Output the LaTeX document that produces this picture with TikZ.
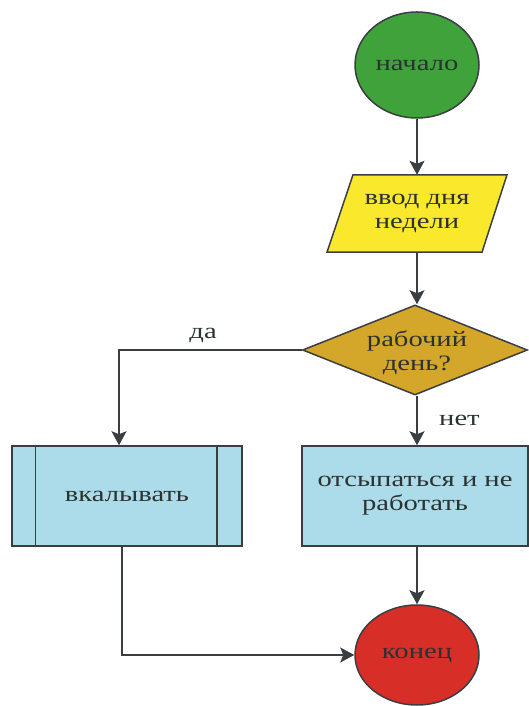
\documentclass[tikz,border=0pt]{standalone}
\usepackage{fontspec}
\setmainfont{Liberation Serif}
\newfontfamily\labelfont{Liberation Serif}[FakeStretch=1.3]
\usetikzlibrary{arrows.meta,shapes.geometric,backgrounds}
\definecolor{startgreen}{RGB}{64,162,58}
\definecolor{inyellow}{RGB}{250,232,44}
\definecolor{askgold}{RGB}{212,166,42}
\definecolor{boxblue}{RGB}{172,220,234}
\definecolor{stopred}{RGB}{216,46,40}
\definecolor{edge}{RGB}{58,62,66}
\definecolor{ink}{RGB}{42,50,50}
\begin{document}
\begin{tikzpicture}[x=1pt,y=1pt,
  every node/.style={font=\labelfont\fontsize{22}{24}\selectfont, text=ink, align=center},
  shapeline/.style={draw=edge, line width=1.5pt},
  terminal/.style={shapeline, ellipse, inner sep=0pt},
  procbox/.style={shapeline, rectangle, fill=boxblue, inner sep=0pt},
  flow/.style={draw=edge, line width=1.8pt, -{Stealth[length=14pt,width=15pt,inset=3pt]}}]
\useasboundingbox (0,0) rectangle (529,706);

% start and end terminals
\node[terminal, fill=startgreen, minimum width=124, minimum height=106] (start) at (417,641) {начало};
\node[terminal, fill=stopred, minimum width=124, minimum height=100] (stop) at (417,51) {конец};

% input parallelogram (outline drawn behind its text)
\node[minimum width=128, minimum height=77, inner sep=0pt] (input) at (417,492.5) {ввод дня\\недели};
\begin{scope}[on background layer]
\path[shapeline, fill=inyellow]
  ([xshift=-64pt]input.north) -- ([xshift=90pt]input.north) --
  ([xshift=65pt]input.south) -- ([xshift=-90pt]input.south) -- cycle;
\end{scope}

% decision diamond
\node[shapeline, diamond, fill=askgold, minimum width=225, minimum height=90,
      inner sep=0pt, shape aspect=2.5] (ask) at (415,356) {};
\node (asktext) at (417,353) {рабочий\\день?};

% process boxes
\node[procbox, minimum width=230, minimum height=100] (work) at (127,210) {вкалывать};
\draw[shapeline] ([xshift=24pt]work.north west) -- ([xshift=24pt]work.south west)
                 ([xshift=-26pt]work.north east) -- ([xshift=-26pt]work.south east);
\node[procbox, minimum width=226, minimum height=100] (rest) at (415,210) {отсыпаться и не\\работать};

% connectors
\coordinate (axis) at (417,0);
\path[flow] (start) -- (input);
\path[flow] (axis |- input.south) -- (axis |- ask.north);
\path[flow] (ask.west) -| ([xshift=-8pt]work.north) node[pos=0.27, above=3pt] {да};
\path[flow] (axis |- ask.south) -- (axis |- rest.north) node[midway, right=18pt] {нет};
\path[flow] (axis |- rest.south) -- (stop.north);
\path[flow] ([xshift=-5pt]work.south) |- (stop.west);
\end{tikzpicture}
\end{document}
